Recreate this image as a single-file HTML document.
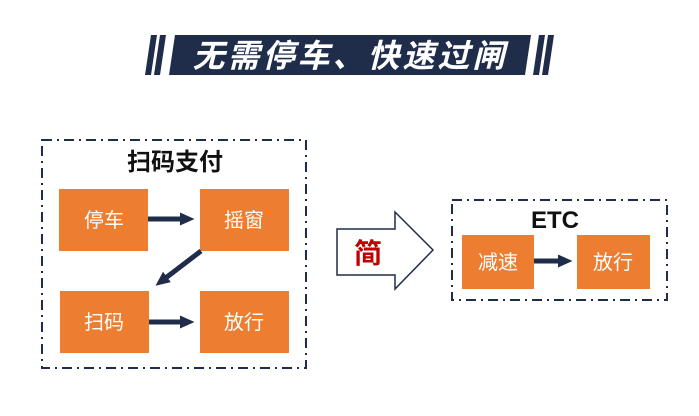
<!DOCTYPE html>
<html><head><meta charset="utf-8"><style>
body{margin:0;width:699px;height:416px;background:#fff;overflow:hidden;font-family:"Liberation Sans","Noto Sans CJK SC",sans-serif}
</style></head><body>
<svg width="699" height="416" xmlns="http://www.w3.org/2000/svg" style="position:absolute;left:0;top:0">
<defs><marker id="a" markerWidth="6" markerHeight="6" refX="1" refY="2.5" orient="auto" markerUnits="strokeWidth"><path d="M0,1.2 L2.9,2.5 L0,3.8 z" fill="#1f2d4b"/></marker></defs>
<polygon points="151,35 157,35 151,75 145,75" fill="#1f2d4b"/>
<polygon points="160,35 166,35 160,75 154,75" fill="#1f2d4b"/>
<polygon points="175,35 531,35 525,75 169,75" fill="#1f2d4b"/>
<polygon points="539,35 545,35 539,75 533,75" fill="#1f2d4b"/>
<polygon points="548,35 554,35 548,75 542,75" fill="#1f2d4b"/>
<text x="350" y="67" text-anchor="middle" font-size="32" font-weight="bold" font-style="italic" fill="#fff" font-family="Liberation Sans,Noto Sans CJK SC,sans-serif" letter-spacing="3">无需停车、快速过闸</text>
<rect x="42" y="140" width="264" height="228" fill="none" stroke="#1f2d4b" stroke-width="2" stroke-dasharray="10,5,2,5"/>
<text x="175" y="170" text-anchor="middle" font-size="24" font-weight="bold" fill="#111">扫码支付</text>
<g fill="#ed7d31">
<rect x="59" y="189" width="89" height="62"/><rect x="200" y="189" width="89" height="62"/>
<rect x="60" y="291" width="89" height="62"/><rect x="200" y="291" width="89" height="62"/>
<rect x="462" y="235" width="72" height="54"/><rect x="577" y="235" width="73" height="54"/>
</g>
<g fill="#fff" font-size="20" text-anchor="middle">
<text x="104" y="227">停车</text><text x="244" y="227">摇窗</text>
<text x="104" y="329">扫码</text><text x="244" y="329">放行</text>
<text x="498" y="269">减速</text><text x="613" y="269">放行</text>
</g>
<g stroke="#1f2d4b" stroke-width="5" marker-end="url(#a)">
<line x1="148" y1="219" x2="185" y2="219"/>
<line x1="201" y1="251" x2="163" y2="280"/>
<line x1="149" y1="322" x2="185" y2="322"/>
<line x1="534" y1="261" x2="563" y2="261"/>
</g>
<polygon points="337,229 395,229 395,212 433,250 395,289 395,275 337,275" fill="#fff" stroke="#1f2d4b" stroke-width="1.5"/>
<text x="368" y="263" text-anchor="middle" font-size="28" font-weight="bold" fill="#c00000">简</text>
<rect x="452" y="200" width="215" height="100" fill="none" stroke="#1f2d4b" stroke-width="2" stroke-dasharray="10,5,2,5"/>
<text x="555" y="228" text-anchor="middle" font-size="24" font-weight="bold" fill="#111">ETC</text>
</svg>
</body></html>
